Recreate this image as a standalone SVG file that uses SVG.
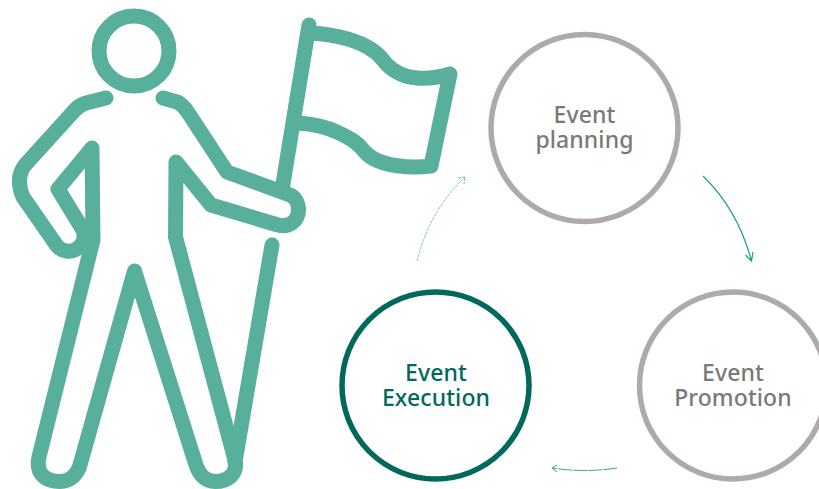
<svg xmlns="http://www.w3.org/2000/svg" width="819" height="489" viewBox="0 0 819 489">
<style>
.fig{fill:none;stroke:#58b09c;stroke-width:15;stroke-linecap:round;stroke-linejoin:round}
.ring{fill:none;stroke-width:5.500}
.gray{stroke:#aeaaaa}
.dark{stroke:#00695c}
text{font-family:"Noto Sans","Open Sans",sans-serif;font-size:23px;font-weight:500;text-anchor:middle;letter-spacing:.1px}
.tg{fill:#7a7878}
.td{fill:#00695c}
.arrow{fill:none;stroke:#1f9e85}
</style>
<rect width="819" height="489" fill="#fff"/>
<g id="figure">
<circle class="fig" cx="134" cy="51" r="35"/>
<path class="fig" d="M106 98L86 103Q79 105 74 111L25 165Q15 178 23 197L57 246A15.500 15.500 0 0 0 83 230L58 189L92 148L93 240L39 457C35 475 47 481.500 60 481.500C71 481.500 78 473 80 465L134.500 271L196 465C199 474 205 481.500 215 481.500C228 481.500 238 474 235 460L175.500 237L176 162L211 205L278 225C290 228 298.500 220 298.500 210C298.500 203 295 197 290 195L227 172L187 111Q182 104 177 102L163 98"/>
<path class="fig" d="M272 245L235 462"/>
<path class="fig" d="M309 25L282 190"/>
<path class="fig" d="M310 33C332 34 368 40 383 60C393 73 405 77 417 78C430 79 440 77 450 74L431 166C415 168 379 168 365 152C358 143 352 139 337 132C326 127 312 124 298 123"/>
</g>
<g id="connectors">
<path class="arrow" stroke-width="1.200" d="M703 176Q738 210 751.500 261M745.500 255L751.500 261L753 252"/>
<path class="arrow" stroke-width=".9" stroke-dasharray="14 1" d="M617 468Q585 473 552 468M557 465L552 468L557 472"/>
<path class="arrow" stroke-width=".8" stroke-opacity=".75" stroke-dasharray="3 1" d="M417 261Q430 210 465 177M458 178L465 177L464 184"/>
</g>
<g id="event-planning">
<circle class="ring gray" cx="584.500" cy="128" r="93.500"/>
<text class="tg"><tspan x="584.500" y="123">Event</tspan><tspan x="584.500" y="148">planning</tspan></text>
</g>
<g id="event-promotion">
<circle class="ring gray" cx="733" cy="385.500" r="93.500"/>
<text class="tg"><tspan x="733" y="381">Event</tspan><tspan x="733" y="406">Promotion</tspan></text>
</g>
<g id="event-execution">
<circle class="ring dark" cx="435.500" cy="385.500" r="93.500"/>
<text class="td"><tspan x="436" y="381">Event</tspan><tspan x="436" y="406">Execution</tspan></text>
</g>
</svg>
